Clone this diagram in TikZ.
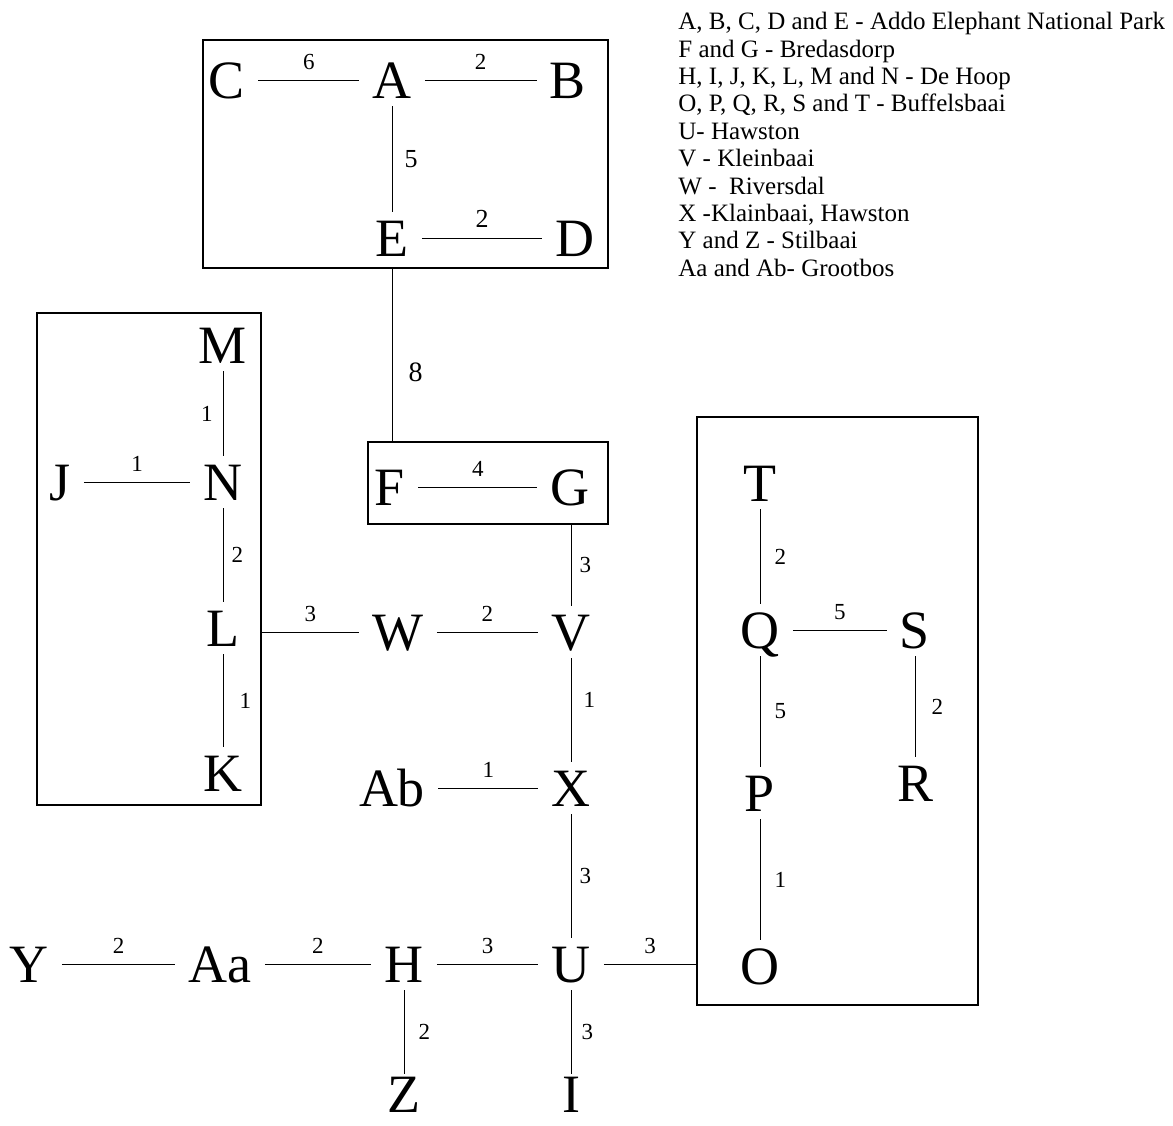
\documentclass[tikz,border=0pt]{standalone}
\usepackage{fontspec}
\setmainfont{Liberation Serif}
\usetikzlibrary{fit}

\begin{document}
\begin{tikzpicture}[x=0.5pt, y=-0.5pt, every node/.style={font=\rmfamily}]
    \tikzstyle{site} = [inner xsep=6.5pt, inner ysep=4pt, text height=18pt, text depth=0pt, font=\fontsize{27}{30}\selectfont]
    \tikzstyle{group} = [draw, line width=0.75pt, inner sep=0pt]
    \tikzstyle{link} = [line width=0.5pt]
    \tikzstyle{wt} = [inner sep=2pt, font=\fontsize{11.5}{13}\selectfont]

    \useasboundingbox (0,0) rectangle (1173,1125);

    % Addo Elephant National Park
    \node (addo) [group, fit={(203,40) (608,268)}] {};
    \node (A) [site] at (392,80) {A};
    \node (C) [site] at (227,80) {C};
    \node (B) [site] at (568,80) {B};
    \node (E) [site] at (392,238) {E};
    \node (D) [site] at (575,238) {D};

    % Bredasdorp
    \node (bred) [group, fit={(368,442) (608,524)}] {};
    \node (F) [site] at (390,487) {F};
    \node (G) [site] at (570,487) {G};

    % De Hoop
    \node (dehoop) [group, fit={(37,313) (261,805)}] {};
    \node (M) [site] at (223,345) {M};
    \node (N) [site] at (223,482) {N};
    \node (J) [site] at (60,482) {J};
    \node (L) [site] at (223,628) {L};
    \node (K) [site] at (223,773) {K};

    % Buffelsbaai
    \node (buff) [group, fit={(697,417) (978,1005)}] {};
    \node (T) [site] at (760,483) {T};
    \node (Q) [site] at (760,630) {Q};
    \node (S) [site] at (915,630) {S};
    \node (P) [site] at (760,793) {P};
    \node (R) [site] at (915,783) {R};
    \node (O) [site] at (760,966) {O};

    % Other sites
    \node (W) [site] at (398,632) {W};
    \node (V) [site] at (571,632) {V};
    \node (Ab) [site] at (392,788) {Ab};
    \node (X) [site] at (571,788) {X};
    \node (Y) [site] at (29,964) {Y};
    \node (Aa) [site] at (220,964) {Aa};
    \node (H) [site] at (404,964) {H};
    \node (U) [site] at (571,964) {U};
    \node (Z) [site, inner ysep=1pt] at (404,1094) {Z};
    \node (I) [site, inner ysep=1pt] at (571,1094) {I};

    % Links
    \draw [link] (C) -- node[wt, above=3pt] {6} (A);
    \draw [link] (A) -- node[wt, above=3pt] {2} (B);
    \draw [link] (A) -- node[wt, right=4pt, font=\fontsize{13}{15}\selectfont] {5} (E);
    \draw [link] (E) -- node[wt, above=3pt, font=\fontsize{13}{15}\selectfont] {2} (D);
    \draw [link] (addo.south -| E) -- node[wt, pos=0.6, right=6pt, font=\fontsize{14}{16}\selectfont] {8} (bred.north -| E);
    \draw [link] (F) -- node[wt, above=3pt] {4} (G);
    \draw [link] (bred.south -| V) -- node[wt, right=2pt] {3} (V);
    \draw [link] (M) -- node[wt, left=3pt] {1} (N);
    \draw [link] (J) -- node[wt, above=3pt] {1} (N);
    \draw [link] (N) -- node[wt, right=2pt] {2} (L);
    \draw [link] (L) -- node[wt, right=6pt] {1} (K);
    \draw [link] (dehoop.east |- W) -- node[wt, above=3pt] {3} (W);
    \draw [link] (W) -- node[wt, above=3pt] {2} (V);
    \draw [link] (V) -- node[wt, pos=0.4, right=4pt] {1} (X);
    \draw [link] (Ab) -- node[wt, above=3pt] {1} (X);
    \draw [link] (X) -- node[wt, right=2pt] {3} (U);
    \draw [link] (Y) -- node[wt, above=3pt] {2} (Aa);
    \draw [link] (Aa) -- node[wt, above=3pt] {2} (H);
    \draw [link] (H) -- node[wt, above=3pt] {3} (U);
    \draw [link] (U) -- node[wt, above=3pt] {3} (buff.west |- U);
    \draw [link] (H) -- node[wt, right=5pt] {2} (Z);
    \draw [link] (U) -- node[wt, right=3pt] {3} (I);
    \draw [link] (T) -- node[wt, right=5pt] {2} (Q);
    \draw [link] (Q) -- node[wt, above=3pt] {5} (S);
    \draw [link] (S) -- node[wt, right=6pt] {2} (R);
    \draw [link] (Q) -- node[wt, right=5pt] {5} (P);
    \draw [link] (P) -- node[wt, right=5pt] {1} (O);

    % Legend
    \node (legend) [anchor=north west, align=left, inner sep=0pt, font=\fontsize{12.5}{13.7}\selectfont] at (678,12) {A, B, C, D and E - Addo Elephant National Park\\
        F and G - Bredasdorp\\
        H, I, J, K, L, M and N - De Hoop\\
        O, P, Q, R, S and T - Buffelsbaai\\
        U- Hawston\\
        V - Kleinbaai\\
        W -\ \ Riversdal\\
        X -Klainbaai, Hawston\\
        Y and Z - Stilbaai\\
        Aa and Ab- Grootbos};
\end{tikzpicture}
\end{document}
